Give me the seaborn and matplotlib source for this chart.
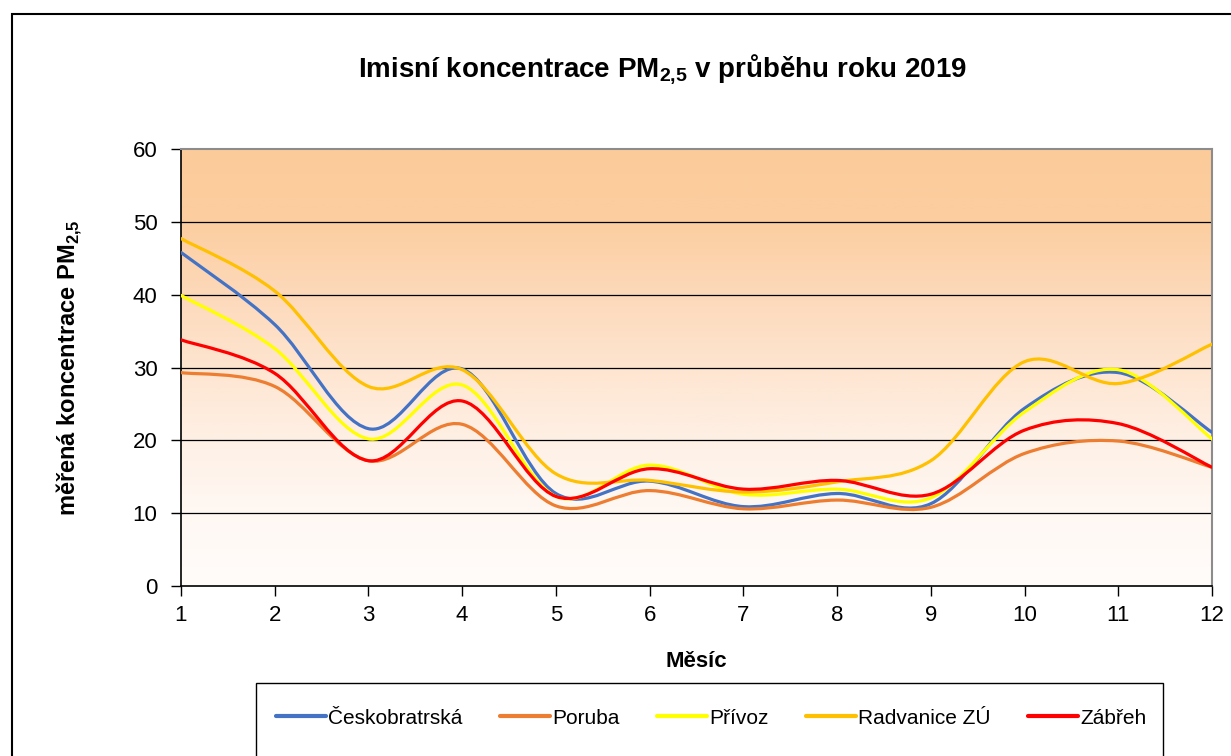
"""
Imisní koncentrace PM2,5 v průběhu roku 2019 - smoothed monthly lines.
"""
import matplotlib
matplotlib.use("Agg")
import matplotlib.pyplot as plt
import numpy as np
import pandas as pd
import seaborn as sns
from matplotlib.lines import Line2D
from matplotlib.patches import PathPatch, Rectangle
from matplotlib.path import Path

# data
months = list(range(1, 13))
stations = ["Českobratrská", "Poruba", "Přívoz", "Radvanice ZÚ", "Zábřeh"]
ceskobratrska = [45.8, 35.9, 21.6, 29.8, 12.7, 14.4, 10.9, 12.7, 11.3, 24.4, 29.3, 21.1]
poruba = [29.3, 27.4, 17.2, 22.2, 11.0, 13.1, 10.6, 11.8, 10.8, 18.2, 19.9, 16.3]
privoz = [39.9, 32.6, 20.2, 27.6, 12.3, 16.6, 12.6, 13.3, 12.1, 23.9, 29.7, 20.2]
radvanice = [47.7, 40.5, 27.4, 29.7, 15.4, 14.5, 12.9, 14.3, 17.2, 30.8, 27.8, 33.2]
zabreh = [33.8, 29.2, 17.2, 25.4, 12.3, 16.1, 13.3, 14.5, 12.6, 21.4, 22.3, 16.3]
palette = ["#4472C4", "#ED7D31", "#FFFF00", "#FFC000", "#FF0000"]
y_ticks = [0, 10, 20, 30, 40, 50, 60]

df = pd.DataFrame({
    "month": months * 5,
    "station": np.repeat(stations, 12),
    "value": ceskobratrska + poruba + privoz + radvanice + zabreh,
})


def smooth_path(x, y):
    """Excel-like smoothed line: cubic Bezier segments (Catmull-Rom control points)."""
    pts = np.column_stack([x, y]).astype(float)
    ext = np.vstack([pts[0], pts, pts[-1]])
    verts = [pts[0]]
    codes = [Path.MOVETO]
    for i in range(len(pts) - 1):
        p0, p1, p2, p3 = ext[i], ext[i + 1], ext[i + 2], ext[i + 3]
        verts += [p1 + (p2 - p0) / 6.0, p2 - (p3 - p1) / 6.0, p2]
        codes += [Path.CURVE4] * 3
    return Path(verts, codes)


sns.set_style("white")
plt.rcParams["font.family"] = ["Liberation Sans", "DejaVu Sans"]
plt.rcParams["mathtext.fontset"] = "custom"
plt.rcParams["mathtext.rm"] = "Liberation Sans"
plt.rcParams["mathtext.bf"] = "Liberation Sans:bold"
plt.rcParams["text.color"] = "black"
plt.rcParams["axes.labelcolor"] = "black"
plt.rcParams["xtick.color"] = "black"
plt.rcParams["ytick.color"] = "black"

fig = plt.figure(figsize=(12.31, 7.56), dpi=100)
ax = fig.add_axes([181 / 1231, 1 - 586 / 756, (1212 - 181) / 1231, (586 - 149) / 756])

# gradient plot area background
levels = [0, 10, 20, 30, 40, 50, 60]
reds = [255, 255, 254, 254, 253, 252, 252]
greens = [252, 248, 240, 229, 217, 206, 203]
blues = [250, 243, 229, 208, 186, 160, 154]
yy = np.linspace(0, 60, 300)
grad = np.stack([np.interp(yy, levels, reds), np.interp(yy, levels, greens),
                 np.interp(yy, levels, blues)], axis=-1)[:, None, :] / 255.0
ax.imshow(grad, extent=(1, 12, 0, 60), origin="lower", aspect="auto", zorder=0)

for i, (name, color) in enumerate(zip(stations, palette)):
    sub = df[df["station"] == name]
    ax.add_patch(PathPatch(smooth_path(sub["month"], sub["value"]), facecolor="none",
                           edgecolor=color, lw=2.3, zorder=3 + i, capstyle="round"))

ax.set_xlim(1, 12)
ax.set_ylim(0, 60)
ax.set_xticks(months)
ax.set_yticks(y_ticks)
for v in y_ticks[1:-1]:
    ax.axhline(v, color="black", lw=0.9, zorder=2)

ax.tick_params(axis="both", labelsize=16, direction="out", length=7, width=1,
               color="black", left=True, bottom=True)
ax.tick_params(axis="x", pad=7)
ax.tick_params(axis="y", pad=10)
for side in ["left", "bottom"]:
    ax.spines[side].set_color("black")
    ax.spines[side].set_linewidth(1.2)
for side in ["top", "right"]:
    ax.spines[side].set_color("#8c8c8c")
    ax.spines[side].set_linewidth(1.5)

ax.set_xlabel("Měsíc", fontsize=16, fontweight="bold")
ax.xaxis.set_label_coords(0.5, (586 - 651) / 437)
ax.set_ylabel(r"měřená koncentrace PM$_{\mathbf{2{,}5}}$", fontsize=17, fontweight="bold")
ax.yaxis.set_label_coords((84 - 181) / 1031, 0.5)
fig.text(662 / 1231, 1 - 70 / 756, r"Imisní koncentrace PM$_{\mathbf{2{,}5}}$ v průběhu roku 2019",
         ha="center", va="center", fontsize=20, fontweight="bold")

# legend with a box cut off by the figure edge
handles = [Line2D([], [], color=c, lw=3) for c in palette]
fig.legend(handles, stations, loc="center", bbox_to_anchor=(711 / 1231, 1 - 718 / 756),
           ncol=5, frameon=False, fontsize=15, handlelength=2.4, handletextpad=0.1,
           columnspacing=1.8)
fig.patches.append(Rectangle((256 / 1231, -0.05), (1163 - 256) / 1231, 0.05 + 1 - 683 / 756,
                             transform=fig.transFigure, fill=False, edgecolor="black", lw=1))
fig.patches.append(Rectangle((12 / 1231, -0.05), 1.1, 0.05 + 1 - 14 / 756,
                             transform=fig.transFigure, fill=False, edgecolor="black", lw=1.5))

fig.savefig("out.png", dpi=100)
